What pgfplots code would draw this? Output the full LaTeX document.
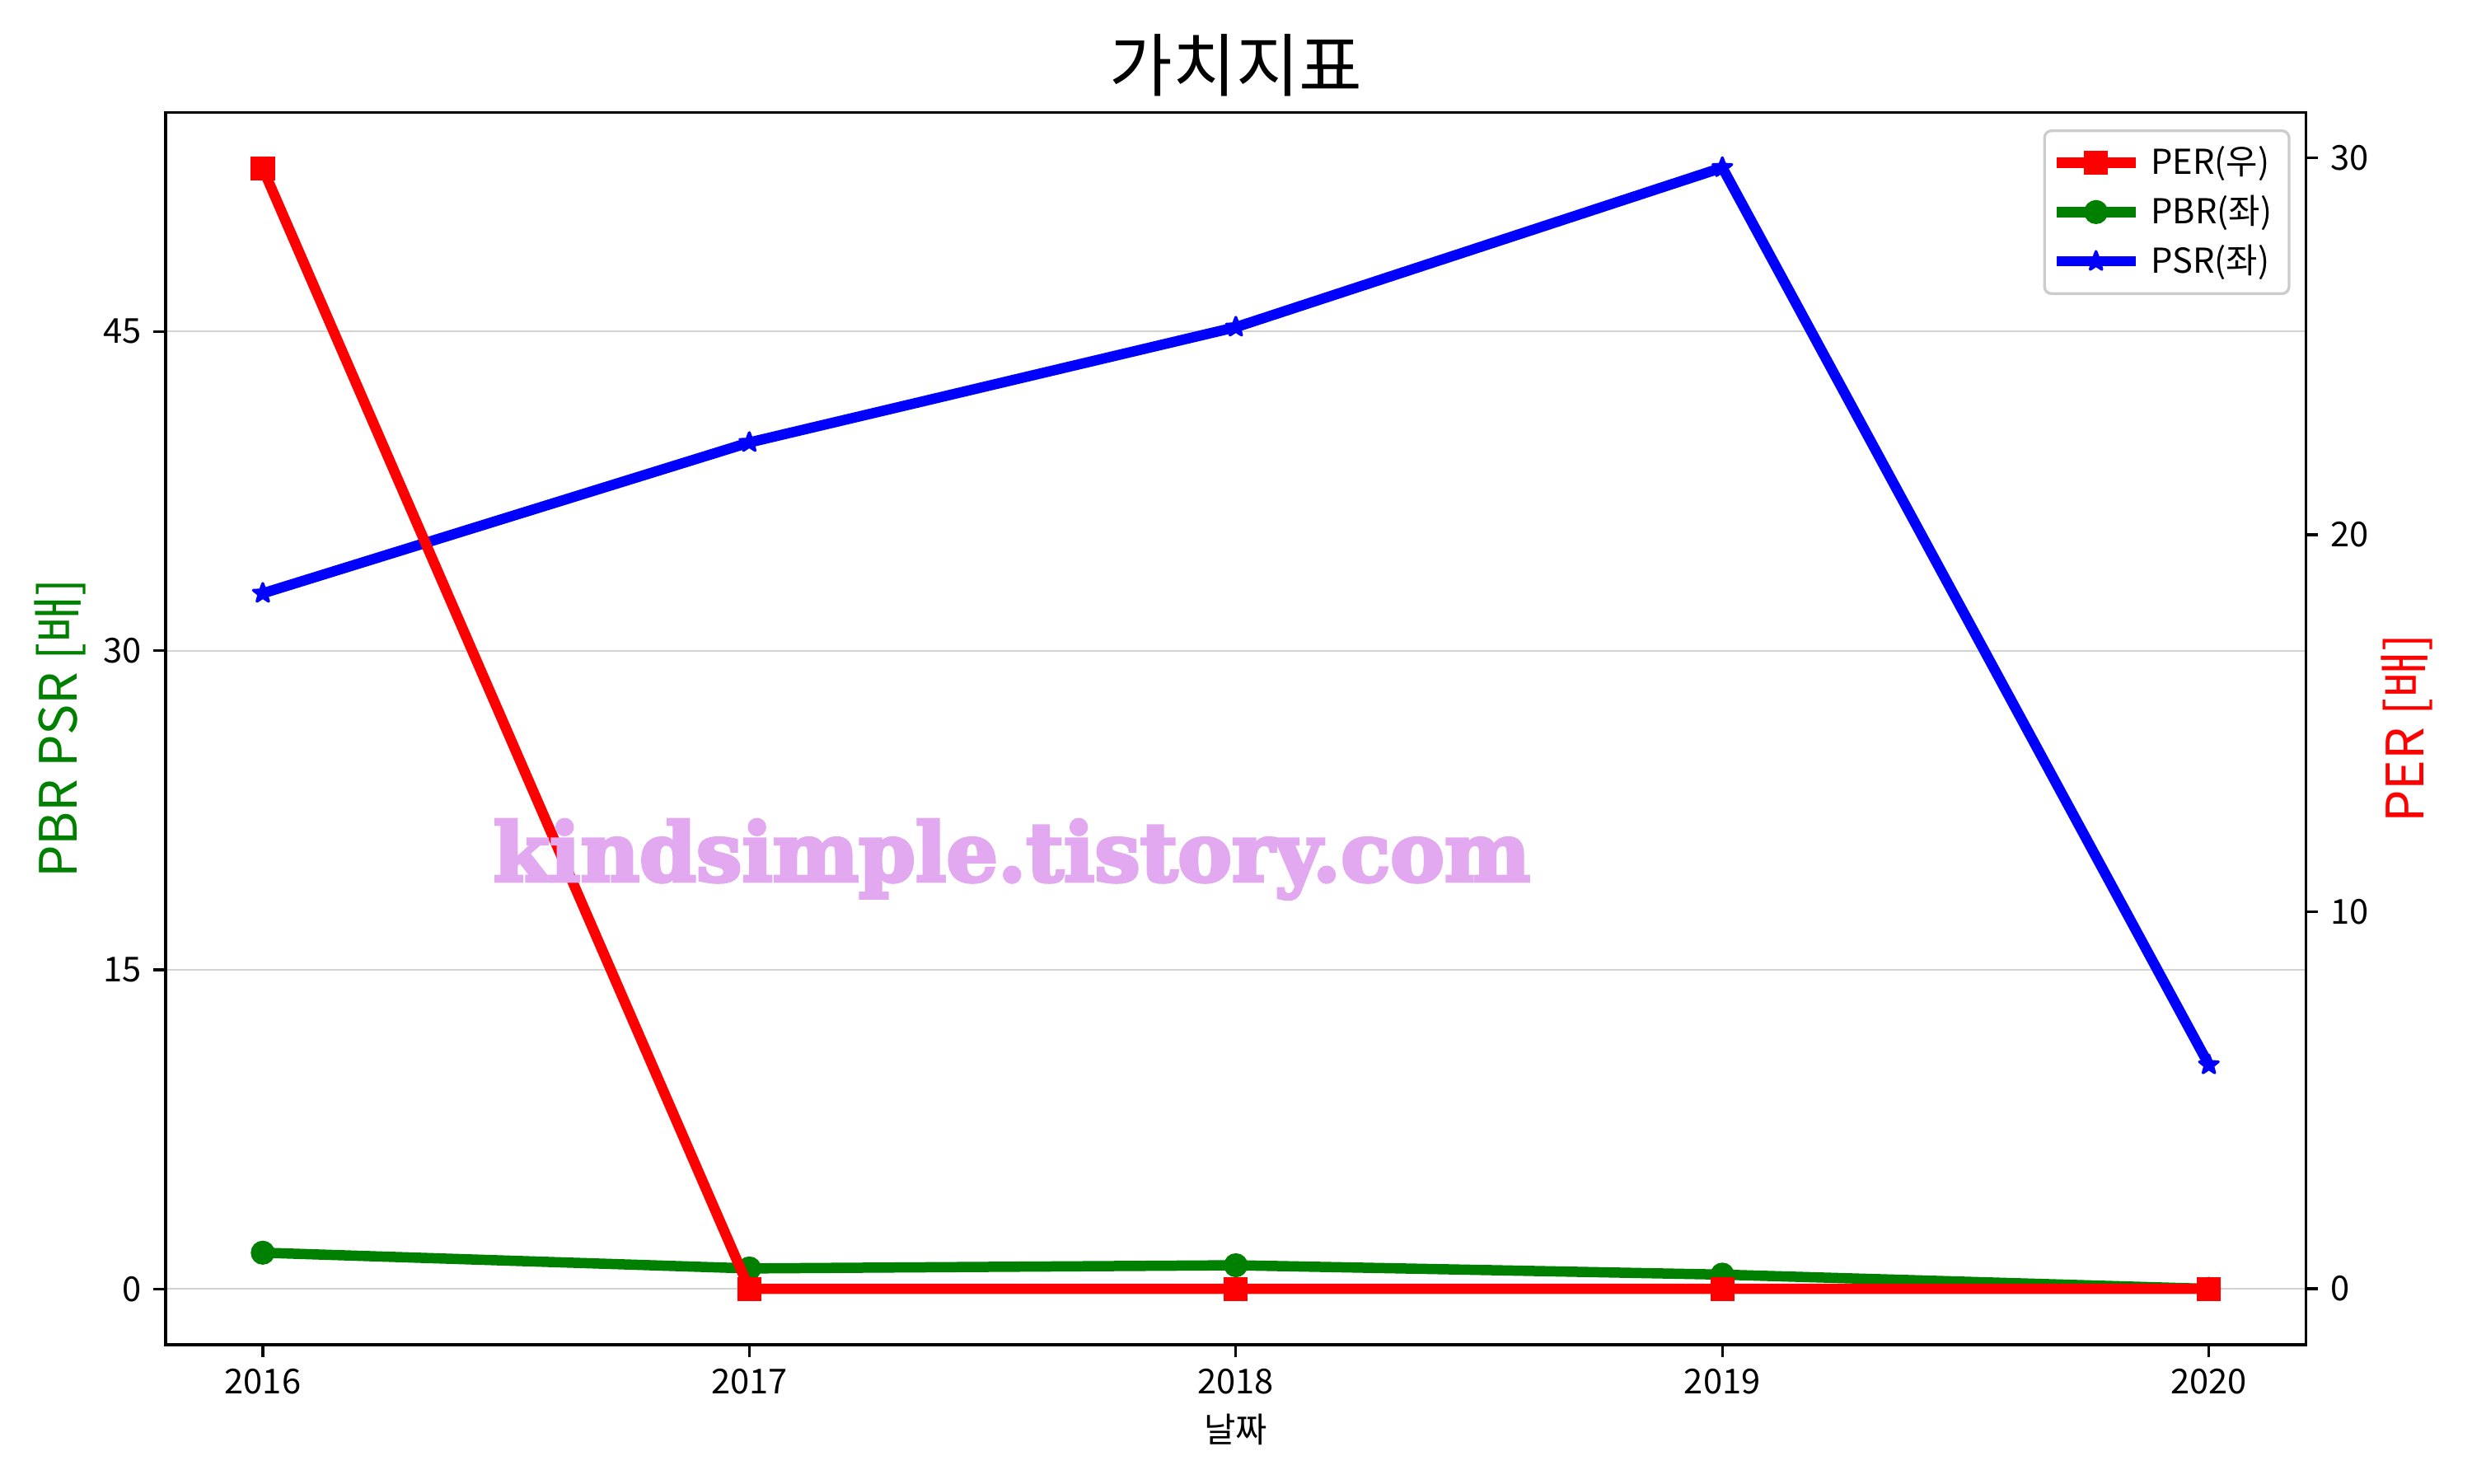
\documentclass[border=0pt]{standalone}
\usepackage{pgfplots}
\pgfplotsset{compat=1.18}
\usepackage{fontspec}
\setmainfont{Noto Sans CJK KR}
\newfontfamily\wmfont{DejaVu Serif}[UprightFont={* Bold}, FakeBold=4]
\usetikzlibrary{plotmarks}
\definecolor{mplgreen}{RGB}{0,128,0}
\definecolor{wm}{RGB}{226,168,240}
\definecolor{gridc}{RGB}{211,211,211}
\definecolor{legc}{RGB}{204,204,204}
\pgfdeclareplotmark{fstar}{%
  \pgfpathmoveto{\pgfpointpolar{90}{\pgfplotmarksize}}%
  \pgfpathlineto{\pgfpointpolar{126}{0.42\pgfplotmarksize}}%
  \pgfpathlineto{\pgfpointpolar{162}{\pgfplotmarksize}}%
  \pgfpathlineto{\pgfpointpolar{198}{0.42\pgfplotmarksize}}%
  \pgfpathlineto{\pgfpointpolar{234}{\pgfplotmarksize}}%
  \pgfpathlineto{\pgfpointpolar{270}{0.42\pgfplotmarksize}}%
  \pgfpathlineto{\pgfpointpolar{306}{\pgfplotmarksize}}%
  \pgfpathlineto{\pgfpointpolar{342}{0.42\pgfplotmarksize}}%
  \pgfpathlineto{\pgfpointpolar{18}{\pgfplotmarksize}}%
  \pgfpathlineto{\pgfpointpolar{54}{0.42\pgfplotmarksize}}%
  \pgfpathclose
  \pgfusepathqfillstroke}
\pgfplotsset{
  common/.style={
    scale only axis, width=623.5pt, height=359pt,
    at={(48.2pt,40.3pt)}, anchor=south west,
    xmin=2015.8, xmax=2020.2,
    tick align=outside, major tick length=3.5pt,
    tick style={black, line width=0.8pt},
    axis line style={line width=0.8pt},
    /pgf/number format/assume math mode=true,
    ticklabel style={font=\fontsize{10}{12}\selectfont},
    legend image code/.code={\draw[mark repeat=2,mark phase=2] plot coordinates {(0pt,0pt) (11.5pt,0pt) (23pt,0pt)};},
  },
}
\begin{document}
\begin{tikzpicture}
\path[use as bounding box] (0,0) rectangle (720pt,432pt);
\begin{axis}[common,
  ymin=-2.63, ymax=55.3,
  xtick={2016,2017,2018,2019,2020},
  xticklabels={2016,2017,2018,2019,2020},
  xtick pos=bottom, ytick pos=left,
  ytick={0,15,30,45},
  ymajorgrids, grid style={gridc, line width=0.5pt},
  xlabel={날짜},
  xlabel style={at={(axis description cs:0.5,0)}, anchor=center, yshift=-24.7pt, font=\fontsize{10}{12}\selectfont},
]
\addplot[mplgreen, line width=3pt, mark=*, mark size=3.1pt, mark options={line width=0.8pt}]
  coordinates {(2016,1.70) (2017,0.96) (2018,1.11) (2019,0.67) (2020,0.0)};
\addplot[blue, line width=3pt, mark=fstar, mark size=2.9pt, mark options={line width=0.8pt, line join=round}]
  coordinates {(2016,32.69) (2017,39.78) (2018,45.2) (2019,52.7) (2020,10.53)};
\end{axis}
\begin{axis}[common,
  ymin=-1.486, ymax=31.21,
  axis y line*=right, axis x line=none,
  ytick={0,10,20,30},
  legend style={at={(axis description cs:1,1)}, anchor=north east, xshift=-4.6pt, yshift=-5pt,
    draw=legc, line width=0.8pt, rounded corners=2pt, fill=white,
    font=\fontsize{10}{12}\selectfont, row sep=0.6pt, inner xsep=2pt, inner ysep=2.5pt,
    nodes={inner xsep=3pt}},
  legend cell align=left,
]
\addplot[red, line width=3pt, mark=square*, mark size=3.1pt, mark options={line width=0.8pt}]
  coordinates {(2016,29.72) (2017,0.0) (2018,0.0) (2019,0.0) (2020,0.0)};
\addlegendentry{PER(우)}
\addlegendimage{mplgreen, line width=3pt, mark=*, mark size=3.1pt, mark options={line width=0.8pt}}
\addlegendentry{PBR(좌)}
\addlegendimage{blue, line width=3pt, mark=fstar, mark size=2.9pt, mark options={line width=0.8pt, line join=round}}
\addlegendentry{PSR(좌)}
\end{axis}
\node[rotate=90, text=mplgreen, font=\fontsize{15}{18}\selectfont, inner sep=0pt] at (17.4pt,219.85pt) {PBR PSR [배]};
\node[rotate=90, text=red, font=\fontsize{15}{18}\selectfont, inner sep=0pt] at (701pt,219.85pt) {PER [배]};
\node[text=wm, inner sep=0pt] at (294.7pt,181.7pt) {\resizebox{302pt}{!}{\wmfont kindsimple.tistory.com}};
\node[font=\fontsize{20}{24}\selectfont, inner sep=0pt] at (360pt,413pt) {가치지표};
\end{tikzpicture}
\end{document}
